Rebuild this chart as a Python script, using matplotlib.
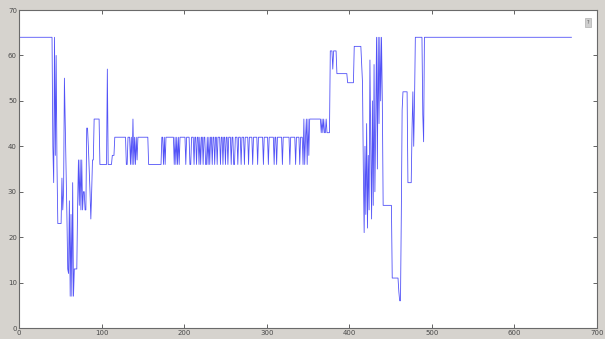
import numpy as np
import matplotlib
matplotlib.use("Agg")
import matplotlib.pyplot as plt

# step signal stored as (sample index where a new level starts, level)
start_idx = [0, 41, 42, 43, 44, 45, 46, 47, 52, 53, 54, 55, 56, 57, 58, 59, 60, 61, 62, 63,
             64, 65, 66, 67, 71, 72, 73, 74, 75, 76, 77, 78, 80, 82, 84, 85, 86, 87, 88, 89,
             91, 98, 107, 108, 113, 116, 130, 132, 135, 136, 137, 138, 139, 140, 141, 142,
             143, 144, 157,
             173, 175, 176, 177, 178, 188, 189, 190, 191, 192, 193, 194, 195, 202, 203, 207,
             209, 212, 213, 215, 216, 218, 219, 220, 221, 223, 224, 226, 228, 229, 230, 231,
             232, 234, 235, 237, 238, 240, 241, 244, 245, 247, 248, 250, 251, 253, 254, 257,
             258, 260, 262, 265, 266, 269, 270, 273, 274, 278, 279, 283, 284, 289, 290, 296,
             297, 302, 303, 309, 310, 312, 313, 319, 320, 328, 329, 335, 336, 340, 341, 344,
             345, 346, 347, 348, 349, 350, 351,
             352, 366, 367, 368, 369, 370, 372, 373, 377, 380, 381, 385, 398, 406, 415, 416,
             417, 418, 419, 420, 421, 422, 423, 424, 425, 426, 427, 428, 429, 430, 431, 432,
             433, 434, 435, 436, 437, 438, 439, 440, 441, 452, 460, 461, 463, 464, 465, 471,
             476, 477, 478, 479, 480, 489, 490, 491]
level = [64, 40, 32, 64, 38, 60, 36, 23, 33, 26, 30, 55, 45, 35, 25, 13, 12, 28, 7, 25,
         7, 32, 7, 13, 27, 37, 27, 37, 26, 37, 26, 30, 26, 44, 40, 35, 30, 24, 30, 37,
         46, 36, 57, 36, 38, 42, 36, 42, 36, 42, 36, 46, 36, 42, 36, 42,
         37, 42, 36,
         42, 36, 42, 36, 42, 36, 42, 36, 42, 36, 42, 36, 42, 36, 42, 36,
         42, 36, 42, 36, 42, 36, 42, 36, 42, 36, 42, 36, 42, 36, 42, 36,
         42, 36, 42, 36, 42, 36, 42, 36, 42, 36, 42, 36, 42, 36, 42, 36,
         42, 36, 42, 36, 42, 36, 42, 36, 42, 36, 42, 36, 42, 36, 42, 36,
         42, 36, 42, 36, 42, 36, 42, 36, 42, 36, 42, 36, 42, 36, 42, 36,
         46, 36, 42, 46, 36, 46, 38,
         46, 43, 46, 43, 46, 43, 46, 43, 61, 57, 61, 56, 54, 62, 58, 54,
         35, 21, 40, 25, 45, 22, 38, 26, 59, 40, 24, 50, 27, 58, 30, 45,
         64, 35, 64, 45, 64, 50, 64, 50, 27, 11, 8, 6, 25, 48, 52, 32,
         44, 52, 40, 50, 64, 47, 41, 64]
n_samples = 670

x_ticks = [0, 100, 200, 300, 400, 500, 600, 700]
y_ticks = [0, 10, 20, 30, 40, 50, 60, 70]

# expand the runs into one value per sample
run_len = np.diff(start_idx + [n_samples])
signal = np.repeat(level, run_len)
t = np.arange(n_samples)

fig = plt.figure(figsize=(6.05, 3.39), dpi=100, facecolor="#d6d3ce")
ax = fig.add_axes([0.0314, 0.0324, 0.9554, 0.938])
ax.set_facecolor("white")

ax.plot(t, signal, color="#5252f7", lw=0.6)

ax.set_xlim(0, 700)
ax.set_ylim(0, 70)
ax.set_xticks(x_ticks)
ax.set_yticks(y_ticks)
ax.tick_params(direction="in", length=3, width=0.6, labelsize=5, colors="#4a4a4a",
               pad=1.5, top=True, right=True)
for s in ax.spines.values():
    s.set_color("#6a6a6a")
    s.set_linewidth(0.8)

# little help button in the corner of the figure window
ax.text(0.984, 0.962, "?", transform=ax.transAxes, fontsize=3.5, color="#555555",
        ha="center", va="center",
        bbox=dict(boxstyle="square,pad=0.4", fc="#cfcfcf", ec="#b0b0b0", lw=0.5))

fig.savefig("out.png", dpi=100, facecolor=fig.get_facecolor())
